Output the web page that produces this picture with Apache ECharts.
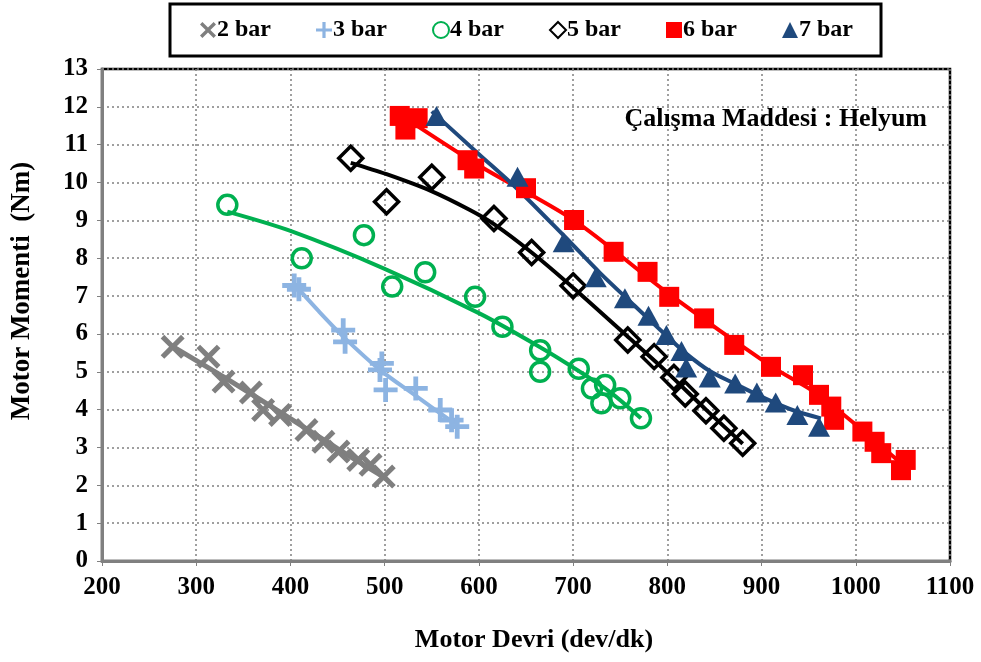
<!DOCTYPE html>
<html><head><meta charset="utf-8">
<script src="https://cdn.jsdelivr.net/npm/echarts@6/dist/echarts.min.js"></script>
<style>html,body{margin:0;padding:0;background:#fff}#c{width:981px;height:662px}</style>
</head><body><div id="c"></div>
<script>
// ---- Data ----
const xTicks = [200,300,400,500,600,700,800,900,1000,1100];
const yTicks = [0,1,2,3,4,5,6,7,8,9,10,11,12,13];
const xTitle = 'Motor Devri (dev/dk)';
const yTitle = 'Motor Momenti  (Nm)';
const note = 'Çalışma Maddesi : Helyum';

const seriesNames = ['2 bar','3 bar','4 bar','5 bar','6 bar','7 bar'];

const bar2Points = [[275,5.66],[313,5.40],[329,4.74],[358,4.45],[371,3.99],[389,3.86],[417,3.46],[435,3.15],[451,2.89],[472,2.67],[485,2.54],[499,2.23]];
const bar2Trend  = [[273,5.70],[330,4.85],[400,3.76],[450,2.97],[500,2.20]];

const bar3Points = [[404,7.28],[409,7.18],[456,6.10],[458,5.79],[497,5.22],[495,5.05],[501,4.52],[533,4.56],[559,3.99],[571,3.72],[577,3.55]];
const bar3Trend  = [[403,7.34],[430,6.60],[456,5.93],[495,5.05],[531,4.40],[575,3.62]];

const bar4Points = [[333,9.41],[412,8.00],[478,8.61],[508,7.25],[543,7.63],[596,6.98],[625,6.19],[665,5.57],[665,5.00],[706,5.08],[720,4.56],[734,4.65],[730,4.17],[750,4.30],[772,3.77]];
const bar4Trend  = [[333,9.23],[400,8.72],[500,7.72],[600,6.55],[665,5.65],[706,5.02],[740,4.45],[772,3.77]];

const bar5Points = [[464,10.64],[502,9.49],[550,10.14],[616,9.05],[656,8.15],[700,7.27],[758,5.84],[786,5.40],[807,4.85],[819,4.41],[841,3.97],[860,3.51],[880,3.11]];
const bar5Trend  = [[464,10.52],[502,10.22],[549,9.78],[590,9.28],[616,8.90],[656,8.15],[700,7.22],[757,5.95],[797,5.05],[841,4.00],[880,3.10]];

const bar6Points = [[516,11.76],[522,11.40],[535,11.70],[588,10.59],[595,10.37],[650,9.85],[701,9.01],[743,8.17],[779,7.64],[802,6.98],[839,6.41],[871,5.71],[910,5.13],[944,4.91],[961,4.39],[974,4.08],[977,3.73],[1007,3.42],[1020,3.15],[1027,2.85],[1048,2.40],[1053,2.67]];
const bar6Trend  = [[516,11.80],[600,10.45],[701,9.00],[802,7.05],[910,5.15],[960,4.40],[1052,2.50]];

const bar7Points = [[555,11.76],[641,10.15],[690,8.42],[724,7.50],[755,6.94],[780,6.48],[799,5.97],[815,5.55],[820,5.11],[845,4.85],[872,4.69],[895,4.45],[915,4.19],[938,3.86],[961,3.55]];
const bar7Trend  = [[550,11.88],[600,10.75],[640,9.85],[690,8.60],[729,7.60],[765,6.75],[800,5.93],[820,5.48],[845,5.02],[871,4.69],[906,4.27],[935,3.97],[963,3.77]];

// ---- Styles ----
const FONT = '"Liberation Serif","Times New Roman",serif';
const plusPath = 'path://M8,0H12V8H20V12H12V20H8V12H0V8H8Z';
const xPath = 'path://M0,3L3,0L10,7L17,0L20,3L13,10L20,17L17,20L10,13L3,20L0,17L7,10Z';
const colors = ['#7f7f7f','#8db4e2','#00b050','#000000','#ff0000','#1f497d'];

function scatter(name, data, color, opts) {
  const s = Object.assign({type:'scatter', name:name, data:data, z:3}, opts);
  s.itemStyle = Object.assign({color:color, opacity:1}, (opts && opts.itemStyle) || {});
  return s;
}
function trend(data, color, width) {
  return {type:'line', data:data, smooth:0.3, showSymbol:false, symbol:'none', silent:true, z:2,
    lineStyle:{color:color, width:width||4}, legendHoverLink:false, tooltip:{show:false}};
}

const option = {
  animation:false,
  backgroundColor:'#fff',
  grid:{left:102, right:31, top:69, bottom:101, show:true, borderColor:'#000', borderWidth:2.5, backgroundColor:'#fff'},
  legend:{
    data:seriesNames,
    left:170, top:4,
    padding:[14,28,14,30], itemGap:45,
    borderColor:'#000', borderWidth:3,
    itemWidth:16, itemHeight:16,
    textStyle:{fontFamily:FONT, fontWeight:'bold', fontSize:24, color:'#000', padding:[0,0,0,-4]}
  },
  xAxis:{
    type:'value', min:200, max:1100, interval:100,
    axisLine:{show:true, onZero:false, lineStyle:{color:'#808080', width:3}},
    axisTick:{show:true, length:5, lineStyle:{color:'#808080'}},
    axisLabel:{fontFamily:FONT, fontWeight:'bold', fontSize:25, color:'#000', margin:14,
      formatter:function(v){return xTicks.indexOf(v)>=0?String(v):'';}},
    splitLine:{show:true, lineStyle:{color:'#808080', type:[2,3], width:1.5}}
  },
  yAxis:{
    type:'value', min:0, max:13, interval:1,
    axisLine:{show:true, onZero:false, lineStyle:{color:'#808080', width:3}},
    axisTick:{show:true, length:5, lineStyle:{color:'#808080'}},
    axisLabel:{fontFamily:FONT, fontWeight:'bold', fontSize:25, color:'#000', margin:14,
      formatter:function(v){return yTicks.indexOf(v)>=0?String(v):'';}},
    splitLine:{show:true, lineStyle:{color:'#808080', type:[2,3], width:1.5}}
  },
  graphic:[
    {type:'text', right:54, top:106, z:10,
     style:{text:note, font:'bold 26px '+FONT, fill:'#000'}},
    {type:'text', x:534, y:640, z:10,
     style:{text:xTitle, font:'bold 26px '+FONT, fill:'#000', align:'center', verticalAlign:'middle'}},
    {type:'text', x:22, y:291, rotation:Math.PI/2, z:10,
     style:{text:yTitle, font:'bold 27px '+FONT, fill:'#000', align:'center', verticalAlign:'middle'}}
  ],
  series:[
    trend(bar2Trend, colors[0], 5),
    trend(bar3Trend, colors[1], 4),
    trend(bar4Trend, colors[2], 4),
    trend(bar5Trend, colors[3], 4),
    trend(bar6Trend, colors[4], 4),
    trend(bar7Trend, colors[5], 4),
    scatter(seriesNames[0], bar2Points, colors[0], {symbol:xPath, symbolSize:24}),
    scatter(seriesNames[1], bar3Points, colors[1], {symbol:plusPath, symbolSize:24}),
    scatter(seriesNames[2], bar4Points, colors[2], {symbol:'circle', symbolSize:19,
      itemStyle:{color:'rgba(255,255,255,0)', borderColor:colors[2], borderWidth:3.5}}),
    scatter(seriesNames[3], bar5Points, colors[3], {symbol:'diamond', symbolSize:[24,24],
      itemStyle:{color:'rgba(255,255,255,0)', borderColor:'#000', borderWidth:3.5}}),
    scatter(seriesNames[4], bar6Points, colors[4], {symbol:'rect', symbolSize:20}),
    scatter(seriesNames[5], bar7Points, colors[5], {symbol:'triangle', symbolSize:[22,20]})
  ]
};
const chart = echarts.init(document.getElementById('c'), null, {renderer:'canvas'});
chart.setOption(option);
</script>
</body></html>
